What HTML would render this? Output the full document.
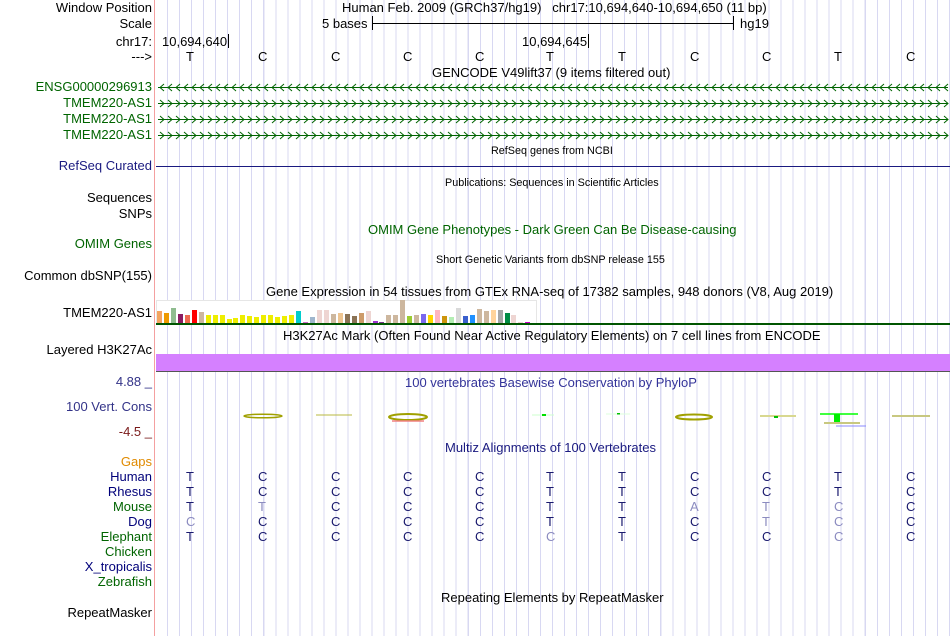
<!DOCTYPE html>
<html><head><meta charset="utf-8"><style>
body{margin:0;width:950px;height:636px;overflow:hidden;background:#fff;font-family:"Liberation Sans",sans-serif;font-size:13px;color:#000;position:relative}
.grid{position:absolute;left:156px;top:0;width:794px;height:636px;background:repeating-linear-gradient(90deg,transparent 0,transparent 11px,#d8d8f2 11px,#d8d8f2 12.03px)}
.pink{position:absolute;left:154px;top:0;width:1px;height:636px;background:#f4a0a0}
.t{position:absolute;white-space:nowrap;line-height:14px}
.l{position:absolute;right:798px;white-space:nowrap;line-height:14px;text-align:right}
.s{font-size:10.8px}
.g{color:#006400}
</style></head><body>
<div class="grid"></div><div class="pink"></div>
<div class="l" style="top:1px">Window Position</div>
<div class="l" style="top:17px">Scale</div>
<div class="l" style="top:35px">chr17:</div>
<div class="l" style="top:50px">---&gt;</div>
<div class="t" style="left:342px;top:1px">Human Feb. 2009 (GRCh37/hg19)&nbsp;&nbsp;&nbsp;chr17:10,694,640-10,694,650 (11 bp)</div>
<div class="t" style="left:322px;top:17px">5 bases</div>
<div style="position:absolute;left:372px;top:16px;width:1px;height:14px;background:#000"></div>
<div style="position:absolute;left:372px;top:23px;width:362px;height:1px;background:#000"></div>
<div style="position:absolute;left:733px;top:16px;width:1px;height:14px;background:#000"></div>
<div class="t" style="left:740px;top:17px">hg19</div>
<div class="t" style="left:162px;top:35px">10,694,640</div>
<div style="position:absolute;left:228px;top:34px;width:1px;height:14px;background:#000"></div>
<div class="t" style="left:522px;top:35px">10,694,645</div>
<div style="position:absolute;left:588px;top:34px;width:1px;height:14px;background:#000"></div>
<div id="bases"></div>
<div class="t" style="left:432px;top:66px">GENCODE V49lift37 (9 items filtered out)</div>
<div class="l g" style="top:80px">ENSG00000296913</div>
<div class="l g" style="top:96px">TMEM220-AS1</div>
<div class="l g" style="top:112px">TMEM220-AS1</div>
<div class="l g" style="top:128px">TMEM220-AS1</div>
<svg id="genes" style="position:absolute;left:156px;top:80px" width="794" height="64"></svg>
<div class="t s" style="left:491px;top:144px">RefSeq genes from NCBI</div>
<div class="l" style="top:159px;color:#1a1a80">RefSeq Curated</div>
<div style="position:absolute;left:156px;top:166px;width:794px;height:1px;background:#1a1a80"></div>
<div class="t s" style="left:445px;top:176px">Publications: Sequences in Scientific Articles</div>
<div class="l" style="top:191px">Sequences</div>
<div class="l" style="top:207px">SNPs</div>
<div class="t g" style="left:368px;top:223px">OMIM Gene Phenotypes - Dark Green Can Be Disease-causing</div>
<div class="l g" style="top:237px">OMIM Genes</div>
<div class="t s" style="left:436px;top:253px">Short Genetic Variants from dbSNP release 155</div>
<div class="l" style="top:269px">Common dbSNP(155)</div>
<div class="t" style="left:266px;top:285px">Gene Expression in 54 tissues from GTEx RNA-seq of 17382 samples, 948 donors (V8, Aug 2019)</div>
<div class="l" style="top:306px">TMEM220-AS1</div>
<div style="position:absolute;left:156px;top:300px;width:379px;height:23px;border:1px solid #e6e6e6;border-bottom:none;background:#fff"></div>
<div id="gtex"></div>
<div style="position:absolute;left:156px;top:323px;width:794px;height:2px;background:#005500"></div>
<div class="t" style="left:283px;top:329px">H3K27Ac Mark (Often Found Near Active Regulatory Elements) on 7 cell lines from ENCODE</div>
<div class="l" style="top:343px">Layered H3K27Ac</div>
<div style="position:absolute;left:156px;top:354px;width:794px;height:17px;background:#d580ff"></div>
<div style="position:absolute;left:156px;top:371px;width:794px;height:1px;background:#555"></div>
<div class="l" style="top:375px;color:#333388">4.88 _</div>
<div class="t" style="left:405px;top:376px;color:#333399">100 vertebrates Basewise Conservation by PhyloP</div>
<div class="l" style="top:400px;color:#333388">100 Vert. Cons</div>
<div class="l" style="top:425px;color:#7a1a1a">-4.5 _</div>
<svg style="position:absolute;left:156px;top:405px" width="794" height="25">
<ellipse cx="107" cy="11" rx="19" ry="1.8" fill="none" stroke="#a0a000" stroke-width="1.5"/>
<line x1="160" y1="10" x2="196" y2="10" stroke="#b8b840" stroke-width="1"/>
<ellipse cx="252" cy="12" rx="19" ry="3" fill="none" stroke="#a0a000" stroke-width="2"/>
<line x1="236" y1="16" x2="268" y2="16" stroke="#f08080" stroke-width="1.5"/>
<line x1="376" y1="10" x2="398" y2="10" stroke="#ccffcc" stroke-width="1"/>
<rect x="386" y="9" width="4" height="2" fill="#00e000"/>
<line x1="450" y1="9" x2="474" y2="9" stroke="#ddffdd" stroke-width="1"/>
<rect x="461" y="8" width="3" height="1.5" fill="#00c000"/>
<ellipse cx="538" cy="12" rx="18" ry="2.5" fill="none" stroke="#a0a000" stroke-width="2"/>
<rect x="604" y="10" width="36" height="2" fill="#d8d890"/>
<rect x="618" y="11" width="4" height="2" fill="#00c000"/>
<line x1="664" y1="9" x2="702" y2="9" stroke="#00ff00" stroke-width="1.5"/>
<rect x="678" y="9" width="6" height="8" fill="#00ee00"/>
<rect x="668" y="17" width="36" height="2" fill="#c8c880"/>
<line x1="680" y1="21" x2="710" y2="21" stroke="#8888ff" stroke-width="1"/>
<rect x="736" y="10" width="38" height="2" fill="#c8c880"/>
</svg>
<div class="t" style="left:445px;top:441px;color:#1a1a80">Multiz Alignments of 100 Vertebrates</div>
<div class="l" style="top:455px;color:#e08a00">Gaps</div>
<div class="l" style="top:470px;color:#00007a">Human</div>
<div class="l" style="top:485px;color:#00007a">Rhesus</div>
<div class="l g" style="top:500px">Mouse</div>
<div class="l" style="top:515px;color:#00007a">Dog</div>
<div class="l g" style="top:530px">Elephant</div>
<div class="l g" style="top:545px">Chicken</div>
<div class="l" style="top:560px;color:#00007a">X_tropicalis</div>
<div class="l g" style="top:575px">Zebrafish</div>
<div id="aln"></div>
<div class="t" style="left:441px;top:591px">Repeating Elements by RepeatMasker</div>
<div class="l" style="top:606px">RepeatMasker</div>
<script>
var X=[190,262,335,407,479,550,622,694,766,838,910];
var h="";
var B="TCCCCTTCCTC";
for(var i=0;i<11;i++)h+='<div class="t" style="left:'+(X[i]-4)+'px;top:50px">'+B[i]+'</div>';
document.getElementById("bases").innerHTML=h;
var rows=[["TCCCCTTCCTC",""],["TCCCCTTCCTC",""],["TTCCCTTATCC","01000001110"],["CCCCCTTCTCC","10000000110"],["TCCCCCTCCCC","00000100010"]];
h="";
for(var r=0;r<rows.length;r++){for(var i=0;i<11;i++){var lt=rows[r][1][i]=="1";h+='<div class="t" style="left:'+(X[i]-4)+'px;top:'+(470+15*r)+'px;color:'+(lt?'#8c8cc0':'#1a1a6e')+'">'+rows[r][0][i]+'</div>';}}
document.getElementById("aln").innerHTML=h;
var sv="";
var ys=[7.5,23.5,39.5,55.5];
for(var r=0;r<4;r++){var y=ys[r];sv+='<line x1="2" y1="'+y+'" x2="792" y2="'+y+'" stroke="#006400"/>';var d="";
for(var x=4;x<790;x+=8){ if(r==0) d+="M"+(x+4)+" "+(y-3.5)+"L"+x+" "+y+"L"+(x+4)+" "+(y+3.5); else d+="M"+x+" "+(y-3.5)+"L"+(x+4)+" "+y+"L"+x+" "+(y+3.5);}
sv+='<path d="'+d+'" fill="none" stroke="#006400" stroke-width="1"/>';}
document.getElementById("genes").innerHTML=sv;
var C=["#f4a460","#ee9a00","#8fbc8f","#8b1c62","#ee6a50","#ff0000","#cdb79e","#eeee00","#eeee00","#eeee00","#eeee00","#eeee00","#eeee00","#eeee00","#eeee00","#eeee00","#eeee00","#eeee00","#eeee00","#eeee00","#00cdcd","#cd69c9","#9fb6cd","#eed5d2","#eed5d2","#cdb79e","#eec591","#8b7355","#8b7355","#cd9b69","#eed5d2","#9a32cd","#7a378b","#cdb79e","#cdb79e","#cdb79e","#9acd32","#cdb79e","#7b68ee","#ffd700","#ffb6c1","#cd950c","#b4eeb4","#d9d9d9","#3a5fcd","#1e90ff","#cdb79e","#cdb79e","#ffd39b","#a6a6a6","#008b45","#eed5d2","#eed5d2","#cd00cd"];
var H=[12,10,15,9,8,13,11,8,8,8,4,5,8,7,6,8,8,6,7,8,12,1,6,13,13,9,10,9,7,10,12,2,1,8,8,23,7,8,9,8,13,7,6,15,7,8,14,12,13,13,10,8,1,1];
h="";
for(var i=0;i<54;i++)h+='<div style="position:absolute;left:'+(157+i*6.95).toFixed(1)+'px;top:'+(323-H[i])+'px;width:5px;height:'+H[i]+'px;background:'+C[i]+'"></div>';
document.getElementById("gtex").innerHTML=h;
</script>
</body></html>
